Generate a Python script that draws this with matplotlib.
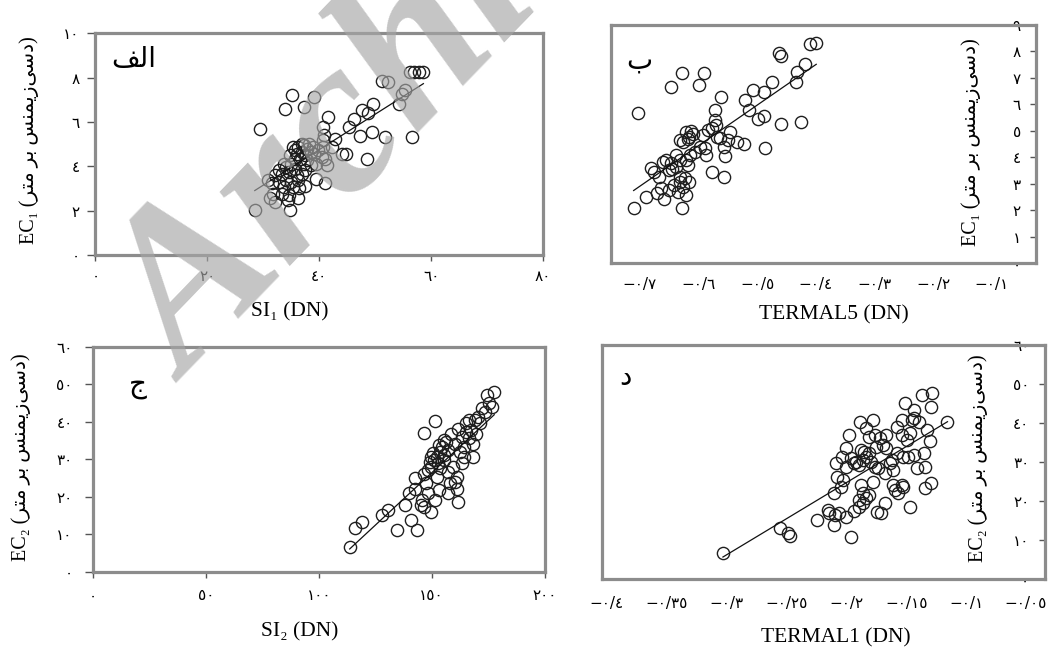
import matplotlib
matplotlib.use("Agg")
import matplotlib.pyplot as plt
import numpy as np

# ---------------- data ----------------
# Panel (الف): SI1 (DN) vs EC1
a_x = [28.48, 34.80, 56.26, 57.03, 57.79, 58.62, 51.15, 52.24, 55.30, 54.79, 54.28, 35.19, 39.14,
       33.84, 37.23, 49.55, 47.57, 48.72, 41.57, 46.17, 45.40, 40.74, 29.37, 49.36, 47.25, 51.72,
       56.51, 40.93, 40.74, 48.60, 44.13, 44.76, 42.34,
       35.31, 36.27, 37.23, 37.87, 36.91, 35.95, 37.55, 38.51, 36.59, 37.87, 35.63, 39.14, 39.78, 40.42,
       41.38, 41.06,
       34.04, 33.40, 34.67, 35.63, 35.95, 34.04, 34.99, 32.76, 32.12, 36.27,
       39.46, 41.06, 37.55, 30.84, 31.48,
       31.16, 32.12, 33.40, 34.67, 36.27, 34.36, 31.80, 40.74, 42.85,
       36.91, 38.19, 38.83, 35.63, 34.80, 37.23, 38.51, 39.46, 33.72, 34.99, 36.91, 37.55, 32.76,
       35.31, 36.46, 33.72]
a_y = [2.05, 2.05, 8.25, 8.25, 8.25, 8.25, 7.84, 7.80, 7.45, 7.27, 6.82, 7.20, 7.12,
       6.60, 6.67, 6.79, 6.55, 6.40, 6.22, 6.15, 5.77, 5.77, 5.70, 5.55, 5.35, 5.32,
       5.32, 5.40, 5.17, 4.35, 4.54, 4.54, 4.87,
       4.87, 4.87, 4.95, 4.80, 4.65, 4.57, 4.50, 4.65, 4.35, 4.27, 4.35, 4.57, 4.72, 4.42,
       4.05, 4.35,
       3.97, 3.67, 3.75, 3.90, 3.60, 3.37, 3.30, 3.30, 3.60, 3.37,
       3.45, 3.25, 3.10, 3.37, 3.25,
       2.55, 2.40, 2.77, 2.70, 2.55, 2.47, 2.77, 4.87, 5.25,
       5.02, 5.02, 4.87, 4.72, 4.50, 4.12, 4.05, 4.12, 4.12, 4.12, 3.67, 3.82, 3.82,
       3.07, 3.00, 3.07]
a_fit = (0.160, -1.65)

# Panel (ب): TERMAL5 (DN) vs EC1
b_x = [-0.7107, -0.6904, -0.7031, -0.647, -0.6279, -0.5903, -0.599, -0.5614, -0.5718, -0.5718, -0.570,
       -0.5214, -0.5064, -0.4891, -0.5134, -0.4752, -0.4636, -0.4601, -0.4347, -0.4329, -0.4185,
       -0.4098, -0.3994, -0.4995, -0.4879, -0.459, -0.4254, -0.4867, -0.5457, -0.5504, -0.5342,
       -0.5226, -0.5573, -0.5556, -0.5776, -0.5573,
       -0.621, -0.6123, -0.6163, -0.6094, -0.6325, -0.6267, -0.6181,
       -0.592, -0.5834, -0.5776, -0.5689, -0.5631,
       -0.5978, -0.5891, -0.5874, -0.6065, -0.6152, -0.621, -0.6181,
       -0.6383, -0.6325, -0.647, -0.6557, -0.6615, -0.6458,
       -0.6817, -0.6759, -0.6673, -0.6499, -0.6383,
       -0.6702, -0.6586, -0.6644, -0.6499, -0.6412, -0.6354, -0.6267, -0.621, -0.6279, -0.6163,
       -0.6325, -0.6325, -0.6239]
b_y = [2.08, 2.49, 5.69, 6.65, 7.20, 7.20, 6.73, 6.27, 5.79, 5.41, 5.22,
       6.17, 6.55, 6.48, 5.79, 6.86, 7.93, 7.83, 6.86, 7.24, 7.52,
       8.28, 8.33, 5.44, 5.56, 5.26, 5.32, 4.34, 4.95, 4.66, 4.59,
       4.51, 4.41, 4.07, 3.46, 3.27,
       4.97, 5.01, 4.78, 4.88, 4.66, 4.59, 4.68,
       4.85, 5.04, 5.10, 4.78, 4.72,
       4.41, 4.34, 4.09, 4.22, 4.09, 3.90, 3.71,
       4.09, 3.90, 3.78, 3.90, 3.84, 3.55,
       3.59, 3.46, 3.27, 3.52, 3.65,
       2.64, 2.42, 2.83, 2.77, 2.96, 2.71, 2.90, 2.58, 2.08, 3.08,
       3.08, 3.27, 3.21]
b_fit = (15.31, 13.63)

# Panel (ج): SI2 (DN) vs EC2
c_x = [113.7, 116.2, 119.2, 128.1, 130.8, 134.8, 140.9, 143.6, 138.0, 140.1, 142.8, 142.4, 146.7,
       151.5, 177.7, 174.6, 175.4, 176.9, 172.2, 173.8, 166.6, 169.0, 170.6, 165.0,
       150.7, 152.3, 153.9, 151.0, 152.6, 155.5, 149.9, 154.7, 153.1, 156.3, 149.1,
       146.7, 147.5, 145.9, 145.2, 146.7, 148.3, 149.9, 151.5, 153.1, 152.3, 157.1, 157.9, 160.3,
       161.0, 161.8, 161.0, 159.5, 157.1, 163.4, 168.2,
       155.5, 158.7, 161.8, 163.4, 165.0, 160.3, 157.1, 162.6, 164.2, 169.8, 166.6,
       148.3, 153.9, 155.5, 149.9, 168.2, 164.5, 167.6, 171.2]
c_y = [6.67, 11.8, 13.2, 15.1, 16.6, 11.1, 13.8, 11.1, 17.8, 21.1, 22.2, 24.9, 37.1,
       40.3, 48.0, 47.1, 45.1, 44.0, 43.6, 42.7, 40.6, 40.4, 41.3, 39.6,
       31.6, 30.7, 32.0, 29.8, 28.9, 31.1, 30.7, 33.3, 33.8, 34.7, 29.3,
       26.2, 23.6, 19.1, 17.8, 17.3, 20.9, 16.0, 19.1, 21.8, 25.3, 20.9, 23.6, 24.0,
       22.2, 18.7, 25.3, 28.0, 26.7, 28.9, 30.7,
       35.1, 36.9, 38.2, 36.0, 37.3, 34.2, 32.4, 32.0, 30.7, 36.9, 35.6,
       27.1, 27.6, 29.8, 28.0, 34.2, 33.3, 37.8, 39.6]
c_fit = (0.56, -57.6)

# Panel (د): TERMAL1 (DN) vs EC2
d_x = [-0.3031, -0.2558, -0.2487, -0.2473, -0.2247, -0.2153, -0.2148, -0.2105, -0.2063, -0.2000,
       -0.1963, -0.1935, -0.1893, -0.1864,
       -0.2105, -0.2077, -0.2006, -0.2048, -0.1978, -0.2000,
       -0.2091, -0.2034, -0.1963, -0.1935, -0.1893, -0.1864, -0.1836, -0.1808, -0.1850, -0.1878,
       -0.1921, -0.1794, -0.1765,
       -0.1884, -0.1836, -0.1779, -0.1808, -0.1765, -0.1751, -0.1694, -0.1666, -0.1723,
       -0.1878, -0.1864, -0.1893, -0.1836, -0.1808, -0.1779, -0.1737, -0.1680, -0.1708, -0.1680,
       -0.1609, -0.1623, -0.1581, -0.1581, -0.1538, -0.1510, -0.1439, -0.1468, -0.1496, -0.1524,
       -0.1482, -0.1439, -0.1538, -0.1453, -0.1439, -0.1397, -0.1369, -0.1283, -0.1292, -0.1326,
       -0.1298, -0.1354, -0.1411, -0.1340, -0.1292, -0.1468, -0.1595, -0.1567, -0.1538, -0.1524,
       -0.1609, -0.1666, -0.1638, -0.1156,
       -0.2026, -0.1346, -0.1748, -0.2094]
d_y = [6.66, 13.05, 11.77, 11.09, 15.19, 17.75, 16.89, 13.91, 16.89, 16.04,
       10.75, 17.58, 18.60, 19.62,
       22.18, 26.28, 28.84, 23.72, 36.95, 33.53,
       29.69, 31.40, 30.97, 29.69, 29.27, 30.55, 31.40, 32.25, 32.68, 33.11,
       30.12, 30.12, 28.84,
       40.36, 38.65, 40.78, 36.52, 36.95, 33.96, 34.39, 36.95, 36.09,
       24.15, 22.01, 20.31, 20.73, 21.59, 25.00, 28.41, 27.13, 16.89, 19.45,
       27.99, 30.55, 32.25, 39.08, 40.78, 45.05, 43.34, 37.37, 35.67, 31.40,
       31.40, 31.83, 36.95, 40.78, 41.21, 40.36, 47.18, 47.78, 44.20, 38.23,
       35.49, 32.25, 28.41, 23.29, 24.57, 18.60, 22.87, 22.01, 24.15, 23.72,
       24.15, 33.53, 29.69, 40.36,
       25.43, 28.84, 17.32, 16.47]
d_fit = (184.8, 61.72)

# tick values and labels (Persian digits)
a_xticks = [0, 20, 40, 60, 80]
a_xlabels = ["٠", "٢٠", "٤٠", "٦٠", "٨٠"]
a_yticks = [0, 2, 4, 6, 8, 10]
a_ylabels = ["٠", "٢", "٤", "٦", "٨", "١٠"]

b_xticks = [-0.7, -0.6, -0.5, -0.4, -0.3, -0.2, -0.1]
b_xlabels = ["−٠/٧", "−٠/٦", "−٠/٥", "−٠/٤", "−٠/٣", "−٠/٢", "−٠/١"]
b_yticks = [0, 1, 2, 3, 4, 5, 6, 7, 8, 9]
b_ylabels = ["٠", "١", "٢", "٣", "٤", "٥", "٦", "٧", "٨", "٩"]

c_xticks = [0, 50, 100, 150, 200]
c_xlabels = ["٠", "٥٠", "١٠٠", "١٥٠", "٢٠٠"]
c_yticks = [0, 10, 20, 30, 40, 50, 60]
c_ylabels = ["٠", "١٠", "٢٠", "٣٠", "٤٠", "٥٠", "٦٠"]

d_xticks = [-0.4, -0.35, -0.3, -0.25, -0.2, -0.15, -0.1, -0.05]
d_xlabels = ["−٠/٤", "−٠/٣٥", "−٠/٣", "−٠/٢٥", "−٠/٢", "−٠/١٥", "−٠/١", "−٠/٠٥"]
d_yticks = [0, 10, 20, 30, 40, 50, 60]
d_ylabels = ["٠", "١٠", "٢٠", "٣٠", "٤٠", "٥٠", "٦٠"]

# Persian texts (pre-shaped presentation forms in visual order)
UNIT = "\uFEAE\uFE98\uFEE3 \uFEAE\uFE91 \uFEB2\uFEE8\uFEE4\uFEF3\uFEAF\uFEF0\uFEB3\uFEA9"  # دسی‌زیمنس بر متر
ec1_label = "EC₁ (" + UNIT + ")"
ec2_label = "EC₂ (" + UNIT + ")"
panel_letters = ["\uFED2\uFEDF\uFE8D", "\uFE8F", "\uFE9D", "\uFEA9"]  # الف ب ج د

# ---------------- figure ----------------
W, H = 1052, 648
fig = plt.figure(figsize=(W / 100, H / 100), dpi=100)

SERIF = ['Liberation Serif', 'DejaVu Sans']
ARAB = ['DejaVu Sans']
FRAME = '#8c8c8c'
TICKC = '#555555'
MARK = '#1e1e1e'


def add_panel(frame_px, x, y, fit, xlim, ylim, xticks, xlabels, yticks, ylabels,
              xlabel, ylabel, xlab_pos, ylab_pos, letter, letter_pos, right_axis,
              xpad, ypad, ylen):
    L, T, R, B = frame_px
    ax = fig.add_axes([L / W, 1 - B / H, (R - L) / W, (B - T) / H])
    ax.set_xlim(*xlim)
    ax.set_ylim(*ylim)
    for s in ax.spines.values():
        s.set_color(FRAME)
        s.set_linewidth(2.3)
    ax.plot(x, y, 'o', mfc='none', mec=MARK, ms=8.8, mew=1.0, zorder=2, clip_on=False)
    xs = np.array([min(x), max(x)])
    ax.plot(xs, fit[0] * xs + fit[1], color='#111111', lw=0.9, zorder=3)

    ax.set_xticks(xticks)
    ax.set_xticklabels(xlabels, fontfamily=ARAB, fontsize=11)
    ax.set_yticks(yticks)
    ax.set_yticklabels(ylabels, fontfamily=ARAB, fontsize=11)
    if right_axis:
        ax.tick_params(axis='x', length=0, pad=xpad)
        ax.tick_params(axis='y', which='both', left=False, labelleft=False, right=True,
                       labelright=True, direction='in', length=ylen, width=1,
                       color=TICKC, pad=ypad)
        for lab in ax.get_yticklabels():
            lab.set_horizontalalignment('right')
        ax.yaxis.set_label_position('right')
    else:
        ax.tick_params(axis='x', direction='out', length=4, width=1, color=TICKC, pad=xpad)
        ax.tick_params(axis='y', direction='out', length=ylen, width=1, color=TICKC, pad=ypad)

    ax.set_xlabel(xlabel, fontfamily=SERIF, fontsize=15.5)
    ax.xaxis.set_label_coords(*xlab_pos)
    ax.xaxis.label.set_verticalalignment('center')
    ax.set_ylabel(ylabel, fontfamily=SERIF, fontsize=14.5, rotation=90)
    ax.yaxis.set_label_coords(*ylab_pos)
    ax.yaxis.label.set_verticalalignment('center')
    ax.yaxis.label.set_horizontalalignment('center')
    ax.text(letter_pos[0], letter_pos[1], letter, transform=ax.transAxes,
            fontfamily=ARAB, fontsize=20, ha='center', va='center')
    return ax


add_panel((95.4, 33.3, 543.0, 255.0), a_x, a_y, a_fit, (0, 80), (0, 10),
          a_xticks, a_xlabels, a_yticks, a_ylabels, "SI₁ (DN)", ec1_label,
          (0.435, -0.256), (-0.149, 0.52), panel_letters[0], (0.085, 0.883), False,
          xpad=6, ypad=6, ylen=5.5)

add_panel((610.6, 25.0, 1035.8, 263.3), b_x, b_y, b_fit, (-0.75, -0.025), (0, 9),
          b_xticks, b_xlabels, b_yticks, b_ylabels, "TERMAL5 (DN)", ec1_label,
          (0.525, -0.217), (0.848, 0.51), panel_letters[1], (0.067, 0.85), True,
          xpad=10, ypad=-10.8, ylen=4)

add_panel((92.9, 347.0, 544.6, 571.7), c_x, c_y, c_fit, (0, 200), (0, 60),
          c_xticks, c_xlabels, c_yticks, c_ylabels, "SI₂ (DN)", ec2_label,
          (0.458, -0.267), (-0.158, 0.51), panel_letters[2], (0.099, 0.831), False,
          xpad=8, ypad=9, ylen=5.5)

add_panel((602.1, 345.0, 1045.2, 579.3), d_x, d_y, d_fit, (-0.404, -0.034), (0, 60),
          d_xticks, d_xlabels, d_yticks, d_ylabels, "TERMAL1 (DN)", ec2_label,
          (0.527, -0.252), (0.848, 0.518), panel_letters[3], (0.052, 0.865), True,
          xpad=12, ypad=-11.5, ylen=4)

# watermark
fig.text(188 / W, 1 - 384 / H, "Archive", fontsize=160, fontfamily='Liberation Serif',
         fontweight='bold', fontstyle='italic', color='#a6a6a6', alpha=0.65,
         rotation=46, rotation_mode='anchor', ha='left', va='baseline', zorder=10)

fig.savefig('out.png', dpi=100)
